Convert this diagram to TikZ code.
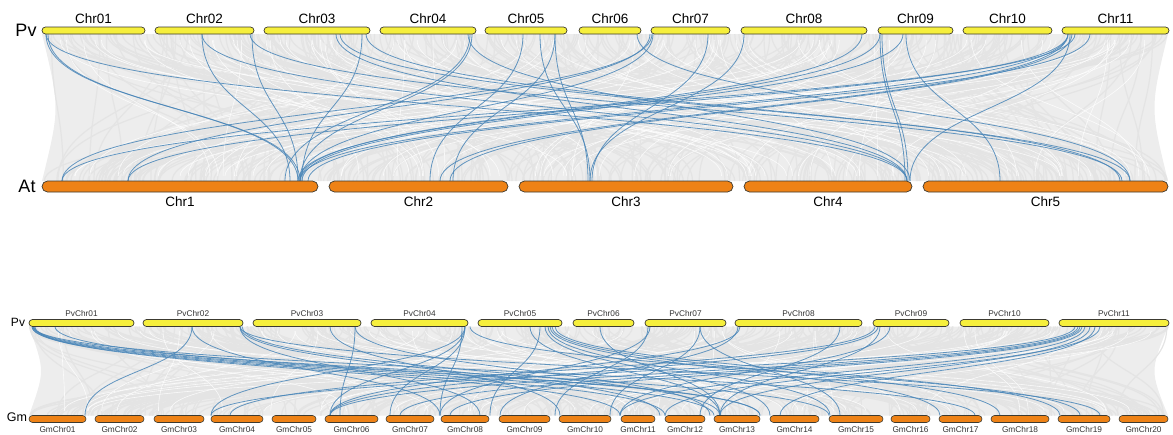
\documentclass[tikz,border=0pt]{standalone}
\usepackage{fontspec}
\setmainfont{Liberation Sans}
\usetikzlibrary{positioning}
\definecolor{pvyellow}{HTML}{F6EF3C}
\definecolor{atorange}{HTML}{EE8216}
\definecolor{barline}{HTML}{3C3A30}
\definecolor{linkblue}{HTML}{4A86B8}
\definecolor{bglink}{HTML}{E4E4E4}
\definecolor{bgfill}{HTML}{EDEDED}
\tikzset{
  pvbar/.style={draw=barline, fill=pvyellow, line width=0.7pt, rounded corners=3.5pt, minimum height=7pt, inner sep=0pt},
  atbar/.style={draw=barline, fill=atorange, line width=0.7pt, rounded corners=5.5pt, minimum height=11pt, inner sep=0pt},
  gmbar/.style={draw=barline, fill=atorange, line width=0.6pt, rounded corners=3.5pt, minimum height=7pt, inner sep=0pt},
  biglabel/.style={font=\fontsize{13.5}{15}\selectfont, inner sep=0pt},
  smalllabel/.style={font=\fontsize{8.3}{10}\selectfont, text=black!80, inner sep=0pt},
  greylink/.style={draw=bglink, line width=1.2pt},
  gaplink/.style={draw=white, line width=0.6pt, opacity=0.8},
  synlink/.style={draw=linkblue, line width=0.8pt, opacity=0.85}
}
\begin{document}
\begin{tikzpicture}[x=1pt, y=-1pt]
\useasboundingbox (0,0) rectangle (1173,434);
\fill[bgfill] (42,34) -- (1168,34) .. controls (1150,108) .. (1168,181) -- (42,181) .. controls (60,108) .. (42,34);
\fill[bgfill] (29,326.5) -- (1168,326.5) .. controls (1150,371) .. (1168,415.5) -- (29,415.5) .. controls (45,371) .. (29,326.5);
\pgfmathsetseed{17}
\foreach \k in {1,...,380}{
  \pgfmathsetmacro\xa{42+1126*rnd}
  \pgfmathsetmacro\xb{42+1126*rnd}
  \draw[greylink] (\xa,34) .. controls (\xa,108) and (\xb,108) .. (\xb,181);
}
\foreach \k in {1,...,90}{
  \pgfmathsetmacro\xa{60+1090*rnd}
  \pgfmathsetmacro\xb{60+1090*rnd}
  \draw[gaplink] (\xa,40) .. controls (\xa,108) and (\xb,108) .. (\xb,176);
}
\foreach \k in {1,...,380}{
  \pgfmathsetmacro\xa{29+1140*rnd}
  \pgfmathsetmacro\xb{29+1139*rnd}
  \draw[greylink] (\xa,326.5) .. controls (\xa,371) and (\xb,371) .. (\xb,415.5);
}
\foreach \k in {1,...,70}{
  \pgfmathsetmacro\xa{40+1120*rnd}
  \pgfmathsetmacro\xb{40+1120*rnd}
  \draw[gaplink] (\xa,331) .. controls (\xa,371) and (\xb,371) .. (\xb,411);
}
\foreach \a/\b in {46/300, 46/907, 48/298, 202/290, 202/907, 252/298, 250/1122, 336/907, 340/1130,
  362/302, 366/1120, 470/285, 472/300, 468/910, 523/430, 555/453, 555/588, 540/590, 637/1130,
  652/62, 653/300, 650/128, 708/592, 744/590, 862/300, 880/905, 882/908, 880/298, 903/302,
  906/1000, 1068/128, 1068/300, 1070/910, 1090/308, 1072/450, 1068/440, 1075/62}
  \draw[synlink] (\a,34) .. controls (\a,108) and (\b,108) .. (\b,181);
\foreach \a/\b in {32/665, 32/714, 33/760, 34/829, 35/620, 33/975, 55/760, 192/85, 192/440,
  240/480, 240/660, 242/720, 240/1100, 330/560, 355/340, 355/710, 465/211, 465/330, 465/390,
  462/440, 470/1080, 530/720, 545/770, 548/830, 550/940, 552/1000, 555/1060, 540/490, 600/720,
  648/555, 650/440, 700/610, 700/840, 738/500, 740/330, 840/700, 875/230, 878/330, 880/720,
  890/620, 1075/211, 1078/330, 1080/400, 1082/450, 1085/620, 1090/720, 1095/780, 1100/665}
  \draw[synlink] (\a,326.5) .. controls (\a,371) and (\b,371) .. (\b,415.5);
\foreach \n/\a/\b in {Chr01/42/145, Chr02/155/254, Chr03/264/370, Chr04/380/476, Chr05/485/567,
  Chr06/579/641, Chr07/651/730, Chr08/741/867, Chr09/878/953, Chr10/963/1052, Chr11/1062/1169}{
  \pgfmathsetmacro\w{\b-\a}
  \pgfmathsetmacro\c{(\a+\b)/2}
  \node[pvbar, minimum width=\w pt] (top\n) at (\c,30.5) {};
  \node[biglabel, above=2.5pt of top\n] (ltop\n) {\n};
}
\foreach \n/\a/\b in {Chr1/42/318, Chr2/329/508, Chr3/519/733, Chr4/744/912, Chr5/923/1168}{
  \pgfmathsetmacro\w{\b-\a}
  \pgfmathsetmacro\c{(\a+\b)/2}
  \node[atbar, minimum width=\w pt] (at\n) at (\c,186.5) {};
  \node[biglabel, below=4pt of at\n] (lat\n) {\n};
}
\foreach \n/\a/\b in {PvChr01/29/134, PvChr02/143/243, PvChr03/253/361, PvChr04/371/468,
  PvChr05/478/562, PvChr06/573/634, PvChr07/645/726, PvChr08/735/862, PvChr09/873/949,
  PvChr10/960/1049, PvChr11/1059/1169}{
  \pgfmathsetmacro\w{\b-\a}
  \pgfmathsetmacro\c{(\a+\b)/2}
  \node[pvbar, minimum width=\w pt] (bot\n) at (\c,323) {};
  \node[smalllabel, above=2pt of bot\n] (lbot\n) {\n};
}
\foreach \n/\a/\b in {GmChr01/29/86, GmChr02/95/144, GmChr03/154/204, GmChr04/211/263,
  GmChr05/272/316, GmChr06/325/378, GmChr07/386/434, GmChr08/441/489, GmChr09/499/550,
  GmChr10/559/611, GmChr11/621/655, GmChr12/665/705, GmChr13/714/760, GmChr14/770/819,
  GmChr15/829/883, GmChr16/891/930, GmChr17/939/982, GmChr18/991/1049, GmChr19/1058/1110,
  GmChr20/1119/1168}{
  \pgfmathsetmacro\w{\b-\a}
  \pgfmathsetmacro\c{(\a+\b)/2}
  \node[gmbar, minimum width=\w pt] (gm\n) at (\c,419) {};
  \node[smalllabel, below=3pt of gm\n] (lgm\n) {\n};
}
\node[font=\fontsize{18}{20}\selectfont, inner sep=0pt] (pvtop) at (26,30) {Pv};
\node[font=\fontsize{18}{20}\selectfont, inner sep=0pt] (attag) at (27,186) {At};
\node[font=\fontsize{12}{14}\selectfont, inner sep=0pt] (pvbot) at (18,322) {Pv};
\node[font=\fontsize{12.5}{14}\selectfont, inner sep=0pt] (gmtag) at (17,417) {Gm};
\end{tikzpicture}
\end{document}
